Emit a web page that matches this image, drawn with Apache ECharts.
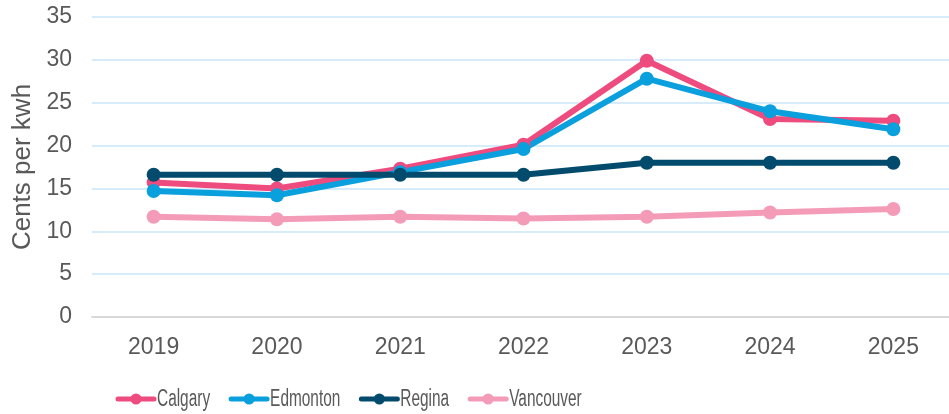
<!DOCTYPE html>
<html>
<head>
<meta charset="utf-8">
<script src="https://cdn.jsdelivr.net/npm/echarts@6/dist/echarts.min.js"></script>
<style>
  html, body { margin: 0; padding: 0; background: #ffffff; }
  #chart { width: 949px; height: 414px; }
</style>
</head>
<body>
<div id="chart"></div>
<script>
// Residential electricity rates, cents per kWh
const years = ['2019', '2020', '2021', '2022', '2023', '2024', '2025'];
const cities = ['Calgary', 'Edmonton', 'Regina', 'Vancouver'];
const calgary   = [15.7, 15.0, 17.3, 20.1, 29.9, 23.1, 22.9];
const edmonton  = [14.7, 14.2, 16.9, 19.6, 27.8, 24.0, 21.9];
const regina    = [16.6, 16.6, 16.6, 16.6, 18.0, 18.0, 18.0];
const vancouver = [11.7, 11.4, 11.7, 11.5, 11.7, 12.2, 12.6];
const yTicks = { min: 0, max: 35, interval: 5 };

const colors = ['#EE4B7F', '#0A9FDD', '#034B6C', '#F49BB8'];
const values = [calgary, edmonton, regina, vancouver];

const textColor = '#595959';
const font = "'Liberation Sans', Arial, sans-serif";

function lineSeries(name, data, color) {
  return {
    name: name,
    type: 'line',
    data: data,
    symbol: 'circle',
    symbolSize: 14,
    lineStyle: { width: 6, color: color },
    itemStyle: { color: color },
    emphasis: { disabled: true }
  };
}

// Legend key: condensed labels, so it is laid out by hand as a graphic group
function buildLegend() {
  const fontSize = 23;
  const squeeze = 0.67;
  const ctx = document.createElement('canvas').getContext('2d');
  ctx.font = fontSize + 'px ' + font;
  const children = [];
  let x = 118;
  const cy = 399;
  cities.forEach(function (name, i) {
    children.push({
      type: 'line', silent: true,
      shape: { x1: x, y1: cy, x2: x + 36, y2: cy },
      style: { stroke: colors[i], lineWidth: 5, lineCap: 'round' }
    });
    children.push({
      type: 'circle', silent: true,
      shape: { cx: x + 18, cy: cy, r: 5.5 },
      style: { fill: colors[i] }
    });
    const tx = x + 39;
    children.push({
      type: 'text', silent: true,
      x: tx, y: cy + 1, scaleX: squeeze,
      style: { text: name, fill: textColor, fontSize: fontSize, fontFamily: font, verticalAlign: 'middle', align: 'left' }
    });
    x = tx + ctx.measureText(name).width * squeeze + 21;
  });
  return { type: 'group', children: children };
}

const chart = echarts.init(document.getElementById('chart'), null, { renderer: 'canvas' });
chart.setOption({
  animation: false,
  // plot area runs a little past the right edge of the canvas
  grid: { left: 92, width: 863, top: 17, bottom: 97, containLabel: false, outerBoundsMode: 'none' },
  xAxis: {
    type: 'category',
    data: years,
    boundaryGap: true,
    axisLine: { lineStyle: { color: '#D9D9D9', width: 2 } },
    axisTick: { show: false },
    axisLabel: { color: textColor, fontSize: 23, fontFamily: font, margin: 19 }
  },
  yAxis: {
    type: 'value',
    min: yTicks.min,
    max: yTicks.max,
    interval: yTicks.interval,
    name: 'Cents per kwh',
    nameLocation: 'middle',
    nameGap: 55,
    nameTextStyle: { color: textColor, fontSize: 26, fontFamily: font },
    axisLine: { show: false },
    axisTick: { show: false },
    axisLabel: { color: textColor, fontSize: 23, fontFamily: font, margin: 20 },
    splitLine: { lineStyle: { color: '#D6ECFA', width: 2 } }
  },
  series: cities.map(function (name, i) { return lineSeries(name, values[i], colors[i]); }),
  graphic: [buildLegend()]
});
</script>
</body>
</html>
